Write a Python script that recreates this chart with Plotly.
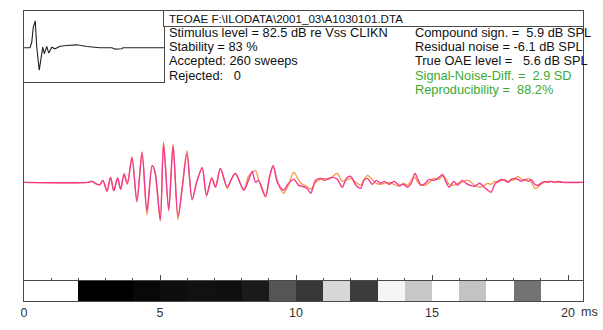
import plotly.graph_objects as go

# ---------------- data ----------------
# main TEOAE waveform (time in ms, amplitude in arbitrary units)
t_ms = [0, 2.35, 2.5, 2.62, 2.78, 2.9, 3.05, 3.18, 3.3, 3.44, 3.55, 3.68, 3.8, 3.97, 4.15, 4.34,
        4.52, 4.71, 4.82, 5.01, 5.13, 5.32, 5.48, 5.66, 5.82, 5.99, 6.18, 6.35, 6.55, 6.71, 6.9,
        7.04, 7.22, 7.47, 7.62, 7.77, 8.08, 8.25, 8.39, 8.51, 8.62, 8.88, 9.02,
        9.16, 9.31, 9.45, 9.55, 9.7, 9.92, 10.1, 10.23, 10.4, 10.54, 10.72, 10.9, 11.05, 11.2,
        11.35, 11.52, 11.7, 11.85, 12.01, 12.2, 12.38, 12.5, 12.63, 12.8, 12.95, 13.1, 13.25,
        13.42, 13.6, 13.79, 13.95, 14.1, 14.25, 14.37, 14.5, 14.59, 14.75, 14.9, 15.08, 15.25,
        15.39, 15.5, 15.63, 15.8, 15.94, 16.1, 16.25, 16.4, 16.56, 16.75, 16.92, 17.05, 17.17,
        17.3, 17.42, 17.55, 17.66, 17.8, 17.91, 18.05, 18.15, 18.3, 18.4, 18.55, 18.64, 18.78,
        18.89, 19.0, 19.13, 19.25, 19.38, 19.5, 19.63, 19.8, 20.55]

wave_a = [0, 0, 1, -1, -2.5, 2, -9, 5, -8.5, 4.5, -7, 8, -1, 25, -19, 30,
          -29, 17, 10, -38, 39, -28, 37, -35, -5, 29, -17, 0, 15, -13, 4,
          -5, 14, -5, 3, 9, -8, 2, 11, 0, 2, -14, 5,
          17, 0, -6, -8, -2, 3, -3, -4, -6, -11, 2, 4, 2, 4,
          5, 3, -5, 4, 6, -3, -6, 2, 4, -2, 2, -1, 1,
          -2, 1, -3, -2, -5, 0, 9, 2, -3, -1, 3, 2, 5,
          8, 1, -5, 1, -3, 2, -1, -3, -4, -1, -5, -8, -10,
          -2, 1, 3, 2, 0, 3, 4, 3, 1, 3, 1, 3, -2,
          -3, -1, 1, 0, 1, 0, 1, 0, 0]

wave_b = [0, 0, 1, -1, -2.5, 2, -9, 5, -8.5, 4.5, -7, 9, -2, 26, -20, 31,
          -33, 17, 10, -39, 41, -29, 39, -38, -4, 32, -18, 1, 14, -14, 5,
          -4, 14, -6, 3, 9, -7, 6, 10, 12, 3, -15, 4,
          16, 2, -8, -11, -4, 10, 2, -2, -4, -7, 0, 3, 4, 3,
          6, 9, 1, 2, 4, 0, -3, 3, 7, 3, -1, -2, -1,
          0, -2, -4, -1, -3, 3, 5, -1, -2, -3, 0, 4, 3,
          6, 4, -2, -3, -1, 0, 2, 1, -3, -5, -3, -1, -2,
          1, 0, 2, 3, 1, 2, 3, 6, 3, 2, 4, 1, -6,
          -5, -2, 0, 1, 1, 0, 0, 0, 0]

# stimulus (inset)
stim_t = [0, 0.24, 0.31, 0.37, 0.45, 0.51, 0.61, 0.75, 0.81, 0.91, 0.99, 1.11, 1.24, 1.44,
          1.71, 2.11, 2.51, 3.04, 3.52, 3.64, 3.91, 3.96, 5.6]
stim_v = [0, 0, 0.56, 2.06, 2.73, 0.06, -2.27, 0.06, -0.6, 0.13, -0.54, 0.06, -0.1, 0.16,
          0.23, 0.3, 0.13, 0, 0, -0.14, -0.1, 0, 0]

# band reproducibility bar (1 ms bands), grey level 0=black 255=white
band_start = [0, 1, 2, 3, 4, 5, 6, 7, 8, 9, 10, 11, 12, 13, 14, 15, 16, 17, 18, 19]
band_width = [1, 1, 1, 1, 1, 1, 1, 1, 1, 1, 1, 1, 1, 1, 1, 1, 1, 1, 1, 1.55]
band_grey = [255, 255, 0, 0, 8, 14, 17, 15, 26, 85, 55, 215, 60, 245, 200, 255, 195, 255, 115, 255]

tick_vals = [0, 5, 10, 15, 20]
tick_text = ["0", "5", "10", "15", "20"]

left_info = ["Stimulus level = 82.5 dB re Vss CLIKN", "Stability = 83 %",
             "Accepted: 260 sweeps", "Rejected:\u00a0\u00a0 0"]
right_info = ["Compound sign. =\u00a0 5.9 dB SPL", "Residual noise = -6.1 dB SPL",
              "True OAE level =\u00a0\u00a0 5.6 dB SPL", "Signal-Noise-Diff. =\u00a0 2.9 SD",
              "Reproducibility =\u00a0 88.2%"]
right_colors = ["#111111", "#111111", "#111111", "#3aaa35", "#3aaa35"]
header = "TEOAE F:\\ILODATA\\2001_03\\A1030101.DTA"

# ---------------- figure ----------------
W, H = 603, 330
ML, MR, MT, MB = 24, 20, 10, 26
PW, PH = W - ML - MR, H - MT - MB


def px(x):
    return (x - ML) / PW


def py(y):
    return (H - MB - y) / PH


bar_top = py(283.3)
inset_right = px(164)
inset_bottom = py(82)
header_bottom = py(25.5)

scale = 0.01
fig = go.Figure()
fig.add_trace(go.Scatter(x=t_ms, y=[v * scale for v in wave_b], mode="lines",
                         line=dict(color="#f29a3c", width=1.3, shape="spline", smoothing=0.8),
                         xaxis="x", yaxis="y", hoverinfo="skip"))
fig.add_trace(go.Scatter(x=t_ms, y=[v * scale for v in wave_a], mode="lines",
                         line=dict(color="#f23a94", width=1.4, shape="spline", smoothing=0.8),
                         xaxis="x", yaxis="y", hoverinfo="skip"))
fig.add_trace(go.Scatter(x=stim_t, y=stim_v, mode="lines",
                         line=dict(color="#222222", width=1.1),
                         xaxis="x2", yaxis="y2", hoverinfo="skip"))
fig.add_trace(go.Bar(x=band_start, y=[1] * len(band_start), width=band_width, offset=0,
                     marker=dict(color=[f"rgb({g},{g},{g})" for g in band_grey],
                                 line=dict(width=0)),
                     xaxis="x3", yaxis="y3", hoverinfo="skip"))
fig.add_trace(go.Scatter(x=[None], y=[None], xaxis="x4", yaxis="y4", hoverinfo="skip"))

LC = "#4a4a4a"
common = dict(showgrid=False, zeroline=False, showline=True, linecolor=LC, linewidth=1,
              mirror=True)
XR = [0, 20.55]
fig.update_layout(
    width=W, height=H, margin=dict(l=ML, r=MR, t=MT, b=MB),
    paper_bgcolor="white", plot_bgcolor="white", showlegend=False, bargap=0,
    font=dict(family="Liberation Sans, Arial, sans-serif", size=12, color="#111111"),
    xaxis=dict(domain=[0, 1], anchor="y", range=XR, ticks="inside", tickvals=tick_vals,
               ticklen=6, tickcolor=LC, showticklabels=False,
               minor=dict(dtick=1, tick0=0, ticks="inside", ticklen=3, tickcolor=LC),
               **common),
    yaxis=dict(domain=[bar_top, 1], anchor="x", range=[-0.996, 1.737], showticklabels=False,
               ticks="", **common),
    xaxis2=dict(domain=[0, inset_right], anchor="y2", range=[0, 5.6], showticklabels=False,
                ticks="", **common),
    yaxis2=dict(domain=[inset_bottom, 1], anchor="x2", range=[-3.47, 3.73],
                showticklabels=False, ticks="", **common),
    xaxis3=dict(domain=[0, 1], anchor="y3", range=XR, tickvals=tick_vals, ticktext=tick_text,
                ticks="", tickfont=dict(size=12.5, color="#333333"), **common),
    yaxis3=dict(domain=[0, bar_top], anchor="x3", range=[0, 1], showticklabels=False,
                ticks="", **common),
    xaxis4=dict(domain=[inset_right, 1], anchor="y4", range=[0, 1], showticklabels=False,
                ticks="", **common),
    yaxis4=dict(domain=[header_bottom, 1], anchor="x4", range=[0, 1], showticklabels=False,
                ticks="", **common),
)

ann = []
ann.append(dict(x=px(167), y=py(17.5), text=header, xanchor="left", yanchor="middle",
                font=dict(size=11.6)))
for i, s in enumerate(left_info):
    ann.append(dict(x=px(167), y=py(31.5 + 14.5 * i), text=s, xanchor="left",
                    yanchor="middle", font=dict(size=12.8)))
for i, s in enumerate(right_info):
    ann.append(dict(x=px(413), y=py(31.5 + 14.5 * i), text=s, xanchor="left",
                    yanchor="middle", font=dict(size=12.8, color=right_colors[i])))
ann.append(dict(x=px(578.5), y=py(315), text="ms", xanchor="left", yanchor="middle",
                font=dict(size=12.5, color="#333333")))
for a in ann:
    a.update(xref="paper", yref="paper", showarrow=False)
fig.update_layout(annotations=ann)

fig.write_html("out.html")
